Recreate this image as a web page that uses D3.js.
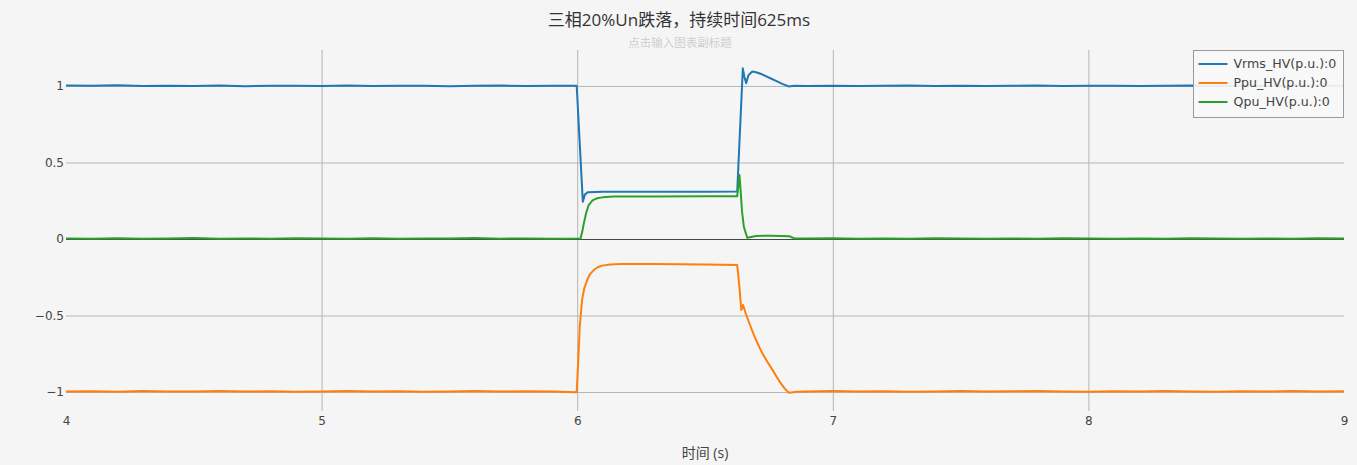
<!DOCTYPE html>
<html>
<head>
<meta charset="utf-8">
<script src="https://cdn.jsdelivr.net/npm/d3@7/dist/d3.min.js"></script>
<style>
  body { margin: 0; background: #f5f5f5; }
  svg { display: block; font-family: "DejaVu Sans", "Noto Sans CJK SC", sans-serif; }
</style>
</head>
<body>
<svg width="1357" height="465"></svg>
<script>

var title = "三相20%Un跌落，持续时间625ms",
    subtitle = "点击输入图表副标题",
    xTitle = "时间 (s)";

var xTicks = [4, 5, 6, 7, 8, 9],
    yTicks = [-1, -0.5, 0, 0.5, 1];

var seriesNames = ["Vrms_HV(p.u.):0", "Ppu_HV(p.u.):0", "Qpu_HV(p.u.):0"],
    colors = ["#1f77b4", "#ff7f0e", "#2ca02c"];

// [time (s), value (p.u.)]
var vrms = [
  [4.00,1.003],[4.10,1.001],[4.20,1.004],[4.30,0.999],[4.40,1.002],[4.50,1.000],[4.60,1.003],
  [4.70,0.998],[4.80,1.001],[4.90,1.002],[5.00,1.000],[5.10,1.003],[5.20,0.999],[5.30,1.001],
  [5.40,1.002],[5.50,0.998],[5.60,1.001],[5.70,1.003],[5.80,1.000],[5.90,1.002],[5.998,1.001],
  [6.022,0.244],[6.030,0.290],[6.041,0.305],[6.10,0.308],[6.30,0.309],[6.50,0.309],[6.626,0.310],
  [6.648,1.115],[6.654,1.060],[6.661,1.018],[6.670,1.070],[6.685,1.094],[6.700,1.090],[6.720,1.078],
  [6.740,1.063],[6.760,1.047],[6.780,1.031],[6.800,1.015],[6.827,0.997],[6.850,1.001],[6.90,1.000],
  [7.00,1.002],[7.10,0.999],[7.20,1.001],[7.30,1.003],[7.40,1.000],[7.50,1.002],[7.60,0.999],
  [7.70,1.001],[7.80,1.003],[7.90,1.000],[8.00,1.001],[8.10,1.002],[8.20,0.999],[8.30,1.001],
  [8.40,1.003],[8.50,1.000],[8.60,1.002],[8.70,0.999],[8.80,1.001],[8.90,1.002],[9.00,1.001]
];

var ppu = [
  [4.00,-0.997],[4.10,-0.995],[4.20,-0.998],[4.30,-0.994],[4.40,-0.997],[4.50,-0.996],[4.60,-0.993],
  [4.70,-0.997],[4.80,-0.995],[4.90,-0.998],[5.00,-0.996],[5.10,-0.994],[5.20,-0.997],[5.30,-0.995],
  [5.40,-0.998],[5.50,-0.996],[5.60,-0.994],[5.70,-0.997],[5.80,-0.995],[5.90,-0.997],[5.998,-1.002],
  [6.004,-0.800],[6.010,-0.573],[6.019,-0.399],[6.028,-0.320],[6.039,-0.268],[6.050,-0.230],
  [6.065,-0.203],[6.080,-0.185],[6.097,-0.174],[6.130,-0.167],[6.169,-0.163],
  [6.30,-0.164],[6.50,-0.166],[6.626,-0.170],[6.634,-0.300],[6.642,-0.464],[6.649,-0.431],
  [6.660,-0.490],[6.676,-0.562],[6.690,-0.622],[6.701,-0.665],[6.715,-0.715],[6.727,-0.755],
  [6.745,-0.805],[6.763,-0.852],[6.780,-0.900],[6.796,-0.942],[6.812,-0.978],[6.828,-1.005],
  [6.86,-0.998],[6.90,-0.996],[7.00,-0.994],[7.10,-0.997],[7.20,-0.995],[7.30,-0.998],[7.40,-0.996],
  [7.50,-0.994],[7.60,-0.997],[7.70,-0.995],[7.80,-0.993],[7.90,-0.996],[8.00,-0.998],[8.10,-0.995],
  [8.20,-0.997],[8.30,-0.994],[8.40,-0.996],[8.50,-0.998],[8.60,-0.995],[8.70,-0.997],[8.80,-0.994],
  [8.90,-0.996],[9.00,-0.995]
];

var qpu = [
  [4.00,0.004],[4.10,0.002],[4.20,0.005],[4.30,0.001],[4.40,0.003],[4.50,0.006],[4.60,0.002],
  [4.70,0.004],[4.80,0.001],[4.90,0.005],[5.00,0.003],[5.10,0.002],[5.20,0.005],[5.30,0.001],
  [5.40,0.004],[5.50,0.003],[5.60,0.006],[5.70,0.002],[5.80,0.004],[5.90,0.001],[6.013,0.003],
  [6.020,0.050],[6.026,0.102],[6.035,0.170],[6.045,0.222],[6.060,0.252],[6.077,0.266],[6.100,0.272],
  [6.143,0.277],[6.30,0.278],[6.50,0.279],[6.626,0.279],
  [6.635,0.418],[6.640,0.300],[6.645,0.178],[6.652,0.080],[6.665,0.008],[6.700,0.020],[6.760,0.021],
  [6.830,0.018],[6.850,0.004],
  [6.90,0.003],[7.00,0.005],[7.10,0.001],[7.20,0.004],[7.30,0.002],[7.40,0.005],[7.50,0.003],
  [7.60,0.001],[7.70,0.004],[7.80,0.002],[7.90,0.005],[8.00,0.003],[8.10,0.001],[8.20,0.004],
  [8.30,0.002],[8.40,0.005],[8.50,0.003],[8.60,0.001],[8.70,0.004],[8.80,0.002],[8.90,0.005],
  [9.00,0.003]
];

var series = [vrms, ppu, qpu];

var svg = d3.select("svg"),
    margin = {top: 50, right: 13, bottom: 54, left: 66},
    width = +svg.attr("width") - margin.left - margin.right,
    height = +svg.attr("height") - margin.top - margin.bottom,
    g = svg.append("g").attr("transform", "translate(" + margin.left + "," + margin.top + ")");

svg.insert("rect", ":first-child")
    .attr("width", 1357).attr("height", 465).attr("fill", "#f5f5f5");

var x = d3.scaleLinear().domain([4, 9]).range([0, width]);
var y = d3.scaleLinear().domain([-1.124, 1.235]).range([height, 0]);

// grid
var xg = g.append("g")
    .attr("transform", "translate(0," + height + ")")
    .call(d3.axisBottom(x).tickValues(xTicks).tickSize(-height).tickPadding(5).tickFormat(d3.format("d")));
xg.select(".domain").remove();
xg.selectAll(".tick line").attr("stroke", "#b4b4b4")
    .attr("opacity", function(d) { return d === 4 || d === 9 ? 0 : 1; });
xg.selectAll(".tick text").attr("fill", "#444").attr("font-size", 12).attr("font-family", "DejaVu Sans").attr("dy", "0.71em");

var yg = g.append("g")
    .call(d3.axisLeft(y).tickValues(yTicks).tickSize(-width).tickPadding(2).tickFormat(d3.format("~g")));
yg.select(".domain").remove();
yg.selectAll(".tick line").attr("stroke", function(d) { return d === 0 ? "#444" : "#b4b4b4"; });
yg.selectAll(".tick text").attr("fill", "#444").attr("font-size", 12).attr("font-family", "DejaVu Sans");

var line = d3.line()
    .x(function(d) { return x(d[0]); })
    .y(function(d) { return y(d[1]); });

g.selectAll(".series")
    .data(series)
  .enter().append("path")
    .attr("class", "series")
    .attr("fill", "none")
    .attr("stroke", function(d, i) { return colors[i]; })
    .attr("stroke-width", 2)
    .attr("stroke-linejoin", "round")
    .attr("d", line);

// titles
svg.append("text")
    .attr("x", 679).attr("y", 26)
    .attr("text-anchor", "middle")
    .attr("font-size", 17)
    .attr("font-family", "'Open Sans', 'Noto Sans CJK SC', sans-serif")
    .attr("fill", "#333")
    .text(title);

svg.append("text")
    .attr("x", 680).attr("y", 47)
    .attr("text-anchor", "middle")
    .attr("font-size", 11.5)
    .attr("font-family", "'Noto Sans CJK SC', sans-serif")
    .attr("fill", "#cfcfcf")
    .text(subtitle);

svg.append("text")
    .attr("x", margin.left + width / 2).attr("y", 458)
    .attr("text-anchor", "middle")
    .attr("font-size", 14)
    .attr("font-family", "'Open Sans', 'Noto Sans CJK SC', sans-serif")
    .attr("fill", "#444")
    .text(xTitle);

// legend
var legend = svg.append("g").attr("transform", "translate(1193.5,50.5)");
legend.append("rect")
    .attr("width", 150).attr("height", 67)
    .attr("fill", "#f7f7f7").attr("fill-opacity", 0.92)
    .attr("stroke", "#999").attr("stroke-width", 1);

var item = legend.selectAll(".item")
    .data(seriesNames)
  .enter().append("g")
    .attr("class", "item")
    .attr("transform", function(d, i) { return "translate(0," + (13.5 + i * 19) + ")"; });

item.append("line")
    .attr("x1", 5).attr("x2", 34)
    .attr("stroke", function(d, i) { return colors[i]; })
    .attr("stroke-width", 2);

item.append("text")
    .attr("x", 40).attr("dy", "0.35em")
    .attr("font-size", 12.6)
    .attr("fill", "#444")
    .text(function(d) { return d; });

</script>
</body>
</html>
